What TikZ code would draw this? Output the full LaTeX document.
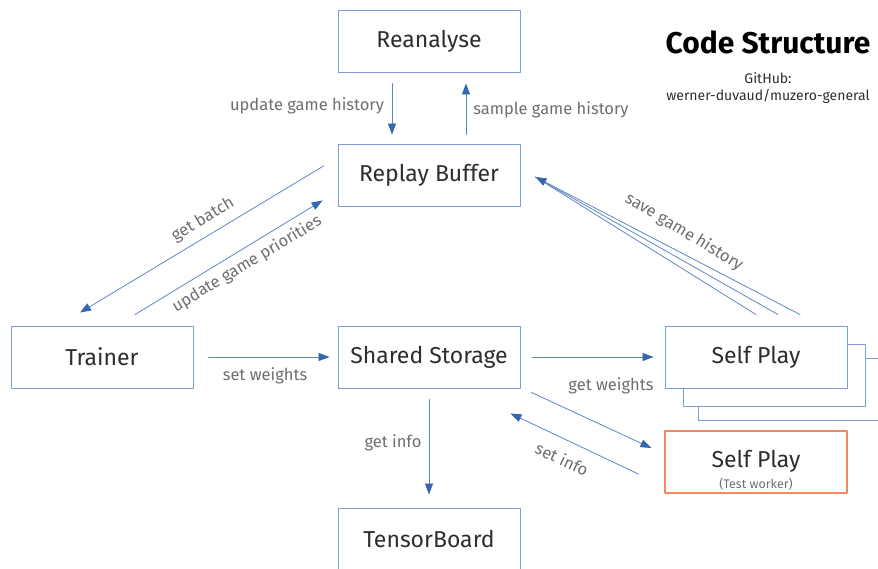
\documentclass[tikz,border=0pt]{standalone}
\usepackage{fontspec}
\setmainfont{Fira Sans}
\usetikzlibrary{arrows.meta}
\definecolor{boxline}{HTML}{7E9ED0}
\definecolor{arrline}{HTML}{5F86C4}
\definecolor{arrtip}{HTML}{3566AE}
\definecolor{workerline}{RGB}{242,135,100}
\definecolor{lblgray}{HTML}{6E6E6E}
\definecolor{txtdark}{HTML}{2E2E2E}
\tikzset{
  box/.style={draw=boxline,fill=white,line width=0.9pt,minimum width=182pt,minimum height=62pt,
    inner sep=0pt,text=txtdark,font=\fontsize{23}{26}\selectfont},
  workerbox/.style={draw,color=workerline,line width=1.2pt,minimum width=182pt,minimum height=62pt,inner sep=0pt},
  lbl/.style={text=lblgray,font=\fontsize{16.5}{19}\selectfont,inner sep=1pt},
  conn/.style={draw=arrline,line width=0.8pt,-{Triangle[length=11pt,width=8pt,color=arrtip]}},
  plain/.style={draw=arrline,line width=0.8pt}
}
\begin{document}
\begin{tikzpicture}[x=1pt,y=-1pt,line cap=round,line join=round]
        \useasboundingbox (0,0) rectangle (878,569);
        \clip (0,0) rectangle (878,569);
        % boxes
        \node[box] (reanalyse) at (429,41) {Reanalyse};
        \node[box] (replay) at (429,175) {Replay Buffer};
        \node[box] (trainer) at (102,357) {Trainer};
        \node[box] (storage) at (429,357) {Shared Storage};
        \node[box] (self3) at (789,389) {};
        \node[box] (self2) at (774,375) {};
        \node[box] (self) at (756,357) {Self Play};
        \node[workerbox] (test) at (756,462) {};
        \node[text=txtdark,font=\fontsize{23}{26}\selectfont] (testname) at (756,461) {Self Play};
        \node[text=lblgray,font=\fontsize{12.5}{14}\selectfont] (testsub) at (756,484) {(Test worker)};
        \node[box] (board) at (429,539) {TensorBoard};

        % title
        \node[font=\bfseries\fontsize{30}{34}\selectfont] (title) at (768,42) {Code Structure};
        \node[align=center,font=\fontsize{14}{17}\selectfont,text=txtdark] (github) at (768,88)
          {GitHub:\\werner-duvaud/muzero-general};

        % replay buffer <-> reanalyse
        \draw[conn] ([xshift=-37pt,yshift=-11pt]reanalyse.south) -- ([xshift=-37pt,yshift=9pt]replay.north);
        \draw[conn] ([xshift=37pt,yshift=9pt]replay.north) -- ([xshift=37pt,yshift=-11pt]reanalyse.south);
        \node[lbl] (l1) at (307,106) {update game history};
        \node[lbl] (l2) at (551,110) {sample game history};

        % replay buffer <-> trainer
        \draw[conn] ([xshift=-14pt,yshift=9pt]replay.west) -- ([xshift=-22pt,yshift=13pt]trainer.north);
        \draw[conn] ([xshift=33pt,yshift=11pt]trainer.north) -- ([xshift=-15pt,yshift=6pt]replay.south west);
        \node[lbl,rotate=31] (l3) at (203,220) {get batch};
        \node[lbl,rotate=31] (l4) at (247,264) {update game priorities};

        % self play -> replay buffer
        \coordinate (tip) at ([xshift=15pt,yshift=-2pt]replay.east);
        \draw[plain] ([yshift=11pt]self.north) -- (tip);
        \draw[plain] ([xshift=22pt,yshift=11pt]self.north) -- (tip);
        \draw[conn] ([xshift=44pt,yshift=11pt]self.north) -- (tip);
        \node[lbl,rotate=-31] (l5) at (684,232) {save game history};

        % trainer -> shared storage -> self play
        \draw[conn] ([xshift=15pt]trainer.east) -- ([xshift=-8pt]storage.west);
        \node[lbl] (l6) at (265,376) {set weights};
        \draw[conn] ([xshift=12pt]storage.east) -- ([xshift=-11pt]self.west);
        \node[lbl] (l7) at (611,386) {get weights};

        % shared storage <-> test worker
        \draw[conn] ([xshift=11pt,yshift=-4pt]storage.south east) -- ([xshift=-13pt,yshift=14pt]test.west);
        \draw[conn] ([xshift=-26pt,yshift=-12pt]test.west) -- ([xshift=-10pt,yshift=-25pt]storage.south east);
        \node[lbl,rotate=-25] (l8) at (562,459) {set info};

        % shared storage -> tensorboard
        \draw[conn] ([yshift=-11pt]storage.south) -- ([yshift=13pt]board.north);
        \node[lbl] (l9) at (393,443) {get info};
      \end{tikzpicture}
\end{document}
